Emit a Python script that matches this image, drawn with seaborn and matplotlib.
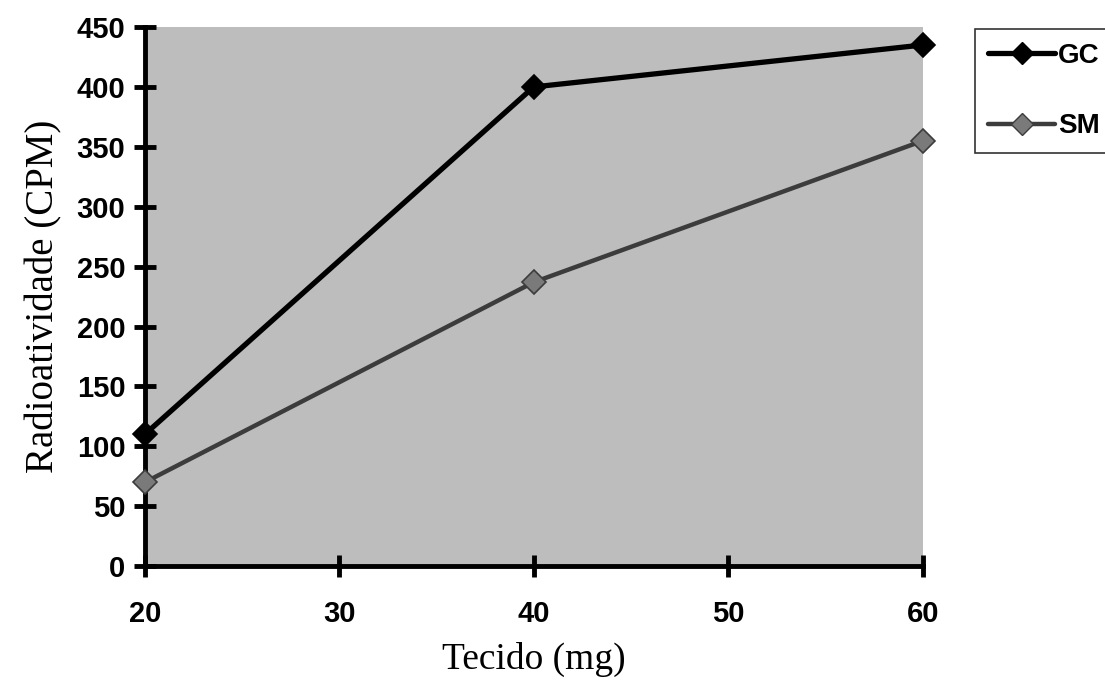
import matplotlib
matplotlib.use("Agg")
import matplotlib.pyplot as plt
import seaborn as sns
import pandas as pd

# Tissue mass (mg) and measured radioactivity (CPM)
tecido = [20, 40, 60]
gc_cpm = [110, 400, 435]
sm_cpm = [70, 237, 355]
series_names = ["GC", "SM"]
y_ticks = [0, 50, 100, 150, 200, 250, 300, 350, 400, 450]
x_ticks = [20, 30, 40, 50, 60]

df = pd.DataFrame({
    "Tecido": tecido * 2,
    "CPM": gc_cpm + sm_cpm,
    "Grupo": [series_names[0]] * len(tecido) + [series_names[1]] * len(tecido),
})

sns.set_style("white")
plt.rcParams["font.family"] = ["Liberation Sans", "DejaVu Sans"]
plt.rcParams.update({
    "text.color": "black",
    "axes.labelcolor": "black",
    "xtick.color": "black",
    "ytick.color": "black",
    "xtick.labelcolor": "black",
    "ytick.labelcolor": "black",
})

fig = plt.figure(figsize=(11.05, 6.93), dpi=100)
ax = fig.add_axes([0.131, 0.183, 0.704, 0.778])
ax.set_facecolor("#bdbdbd")

line_colors = {"GC": "#000000", "SM": "#3c3c3c"}
marker_colors = {"GC": "#000000", "SM": "#7a7a7a"}
line_widths = {"GC": 3.8, "SM": 3.2}

for name in series_names:
    sub = df[df["Grupo"] == name]
    sns.lineplot(data=sub, x="Tecido", y="CPM",
                 color=line_colors[name], linewidth=line_widths[name],
                 ax=ax, legend=False)
    ax.plot(sub["Tecido"], sub["CPM"], linestyle="none", marker="D",
            markersize=12, color=marker_colors[name],
            markeredgecolor=line_colors[name], markeredgewidth=1.2,
            clip_on=False, zorder=5)

ax.set_xlim(20, 60)
ax.set_ylim(0, 450)
ax.set_xticks(x_ticks)
ax.set_yticks(y_ticks)
ax.tick_params(axis="both", direction="inout", length=16, width=3.5,
               labelsize=21, color="black", labelcolor="black", pad=6,
               bottom=True, left=True)
ax.tick_params(axis="x", pad=16)
for lab in ax.get_xticklabels() + ax.get_yticklabels():
    lab.set_fontweight("bold")

for side in ["top", "right"]:
    ax.spines[side].set_visible(False)
for side in ["left", "bottom"]:
    ax.spines[side].set_linewidth(3.5)
    ax.spines[side].set_color("black")

ax.set_xlabel("Tecido (mg)", fontsize=27, family="Liberation Serif",
              labelpad=10, color="black")
ax.set_ylabel("Radioatividade (CPM)", fontsize=28, family="Liberation Serif",
              labelpad=10, color="black")

# Legend handles built from the same styles
handles = []
for name in series_names:
    h, = ax.plot([], [], color=line_colors[name], linewidth=line_widths[name],
                 marker="D", markersize=11, markerfacecolor=marker_colors[name],
                 markeredgecolor=line_colors[name])
    handles.append(h)
leg = fig.legend(handles, series_names, loc="upper left",
                 bbox_to_anchor=(0.882, 0.958), frameon=True,
                 prop={"size": 20, "weight": "bold"},
                 handlelength=2.4, handletextpad=0.1, labelspacing=1.6,
                 borderpad=0.5, fancybox=False, borderaxespad=0,
                 labelcolor="black")
leg.get_frame().set_edgecolor("black")
leg.get_frame().set_linewidth(1.2)

fig.savefig("out.png", dpi=100)
